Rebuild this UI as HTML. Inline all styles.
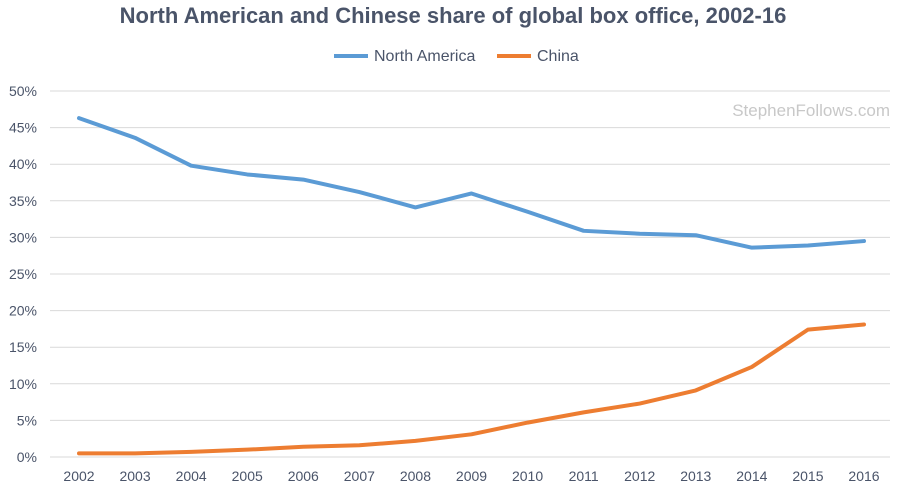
<!DOCTYPE html>
<html><head><meta charset="utf-8"><style>
body{margin:0;background:#fff;}
svg{display:block;font-family:"Liberation Sans",sans-serif;}
</style></head><body>
<svg id="chart" width="900" height="490">
<text x="453" y="23" text-anchor="middle" font-size="22" font-weight="bold" fill="#4a5469">North American and Chinese share of global box office, 2002-16</text>
<g>
<g><line x1="334" y1="56" x2="368" y2="56" stroke="#5b9bd5" stroke-width="4"/><text x="374" y="61" font-size="16" fill="#4a5469">North America</text></g>
<g><line x1="497" y1="56" x2="531" y2="56" stroke="#ed7d31" stroke-width="4"/><text x="537" y="61" font-size="16" fill="#4a5469">China</text></g>
</g>
<text x="890" y="116" text-anchor="end" font-size="17" fill="#c8c8c8">StephenFollows.com</text>
<g id="grid"></g><g id="yticks"></g><g id="xticks"></g><g id="series"></g>
</svg>
<script>
const years=[2002,2003,2004,2005,2006,2007,2008,2009,2010,2011,2012,2013,2014,2015,2016];
const northAmerica=[46.3,43.6,39.8,38.6,37.9,36.2,34.1,36.0,33.5,30.9,30.5,30.3,28.6,28.9,29.5];
const china=[0.5,0.5,0.7,1.0,1.4,1.6,2.2,3.1,4.7,6.1,7.3,9.1,12.3,17.4,18.1];
const yTicks=[0,5,10,15,20,25,30,35,40,45,50];
const NS="http://www.w3.org/2000/svg";
const x=i=>79+i*(864-79)/(years.length-1);
const y=v=>457-v*(457-91)/50;
function mk(tag,attrs,parent){const e=document.createElementNS(NS,tag);for(const k in attrs)e.setAttribute(k,attrs[k]);document.getElementById(parent).appendChild(e);return e;}
yTicks.forEach(t=>{
 const l=mk('line',{x1:50,x2:890,y1:y(t),y2:y(t),stroke:'#d9d9d9','stroke-width':1},'grid');
 
 
 const tx=mk('text',{x:37,y:y(t)+5,'text-anchor':'end','font-size':14,fill:'#4a5469'},'yticks');
 tx.textContent=t+'%';
 
 
});
years.forEach((yr,i)=>{
 const tx=mk('text',{x:x(i),y:481,'text-anchor':'middle','font-size':14,fill:'#4a5469'},'xticks');
 tx.textContent=yr;
 
 
});
function line(vals,color,name){
 const p=mk('polyline',{points:vals.map((v,i)=>x(i)+','+y(v)).join(' '),fill:'none',stroke:color,'stroke-width':4,'stroke-linejoin':'round','stroke-linecap':'round'},'series');
 
 
}
line(northAmerica,'#5b9bd5','north-america-line');
line(china,'#ed7d31','china-line');
</script>
</body></html>
